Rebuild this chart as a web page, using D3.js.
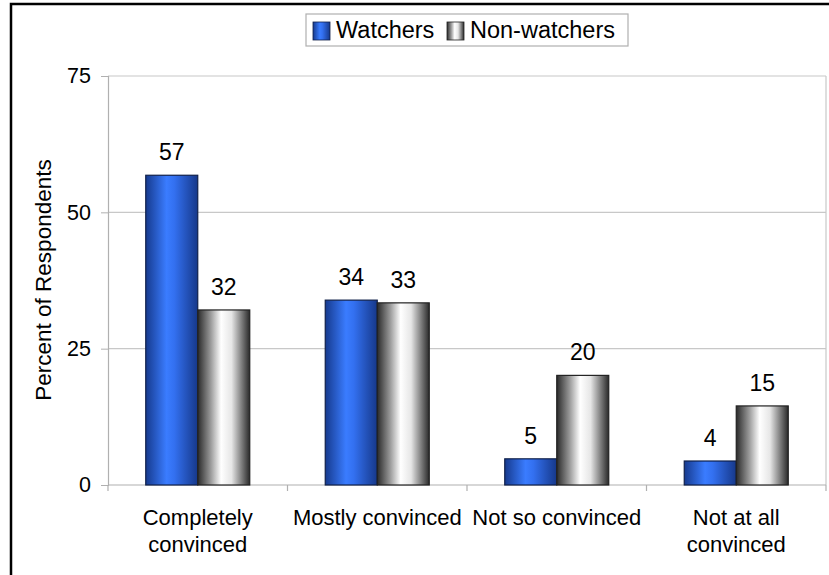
<!DOCTYPE html>
<html><head><meta charset="utf-8">
<script src="https://cdn.jsdelivr.net/npm/d3@7"></script>
<style>body{margin:0;background:#fff}svg{display:block;font-family:"Liberation Sans",Arial,sans-serif}</style>
</head><body>
<svg id="c" width="829" height="575"></svg>
<script>
const categories = [["Completely","convinced"],["Mostly convinced"],["Not so convinced"],["Not at all","convinced"]];
const seriesNames = ["Watchers","Non-watchers"];
const watchers = [56.8, 33.9, 4.8, 4.4];
const nonWatchers = [32.1, 33.4, 20.1, 14.5];
const watcherLabels = ["57","34","5","4"];
const nonWatcherLabels = ["32","33","20","15"];
const yTicks = [0,25,50,75];

(function(){
const svg = d3.select("#c");
const defs = svg.append("defs");
function grad(id, stops){
  const g = defs.append("linearGradient").attr("id",id).attr("x1","0%").attr("x2","100%").attr("y1","0%").attr("y2","0%");
  stops.forEach(s=>g.append("stop").attr("offset",s[0]).attr("stop-color",s[1]));
}
grad("gBlue",[["0%","#163a8e"],["40%","#3a7cff"],["55%","#3370f0"],["100%","#16388a"]]);
grad("gGray",[["0%","#2a2a2a"],["25%","#9a9a9a"],["45%","#ffffff"],["65%","#e6e6e6"],["100%","#2a2a2a"]]);

svg.append("rect").attr("x",11).attr("y",4).attr("width",840).attr("height",600)
  .attr("fill","none").attr("stroke","#000").attr("stroke-width",2.5);

const pLeft=108, pRight=826, pTop=76, pBottom=485;
const x = d3.scaleBand().domain(d3.range(categories.length)).range([pLeft,pRight]).paddingInner(0).paddingOuter(0);
const y = d3.scaleLinear().domain([0,75]).range([pBottom,pTop]);
const inner = d3.scaleBand().domain([0,1]).range([0,104]);
const barOffset = (x.bandwidth()-104)/2;

svg.append("g").selectAll("line").data(yTicks.filter(d=>d>0)).join("line")
  .attr("x1",pLeft).attr("x2",pRight).attr("y1",d=>y(d)).attr("y2",d=>y(d))
  .attr("stroke","#c8c8c8").attr("stroke-width",1.2);
svg.append("line").attr("x1",pRight).attr("x2",pRight).attr("y1",pTop).attr("y2",pBottom).attr("stroke","#c8c8c8").attr("stroke-width",1.2);

const yAxis = svg.append("g").attr("transform",`translate(${pLeft},0)`)
  .call(d3.axisLeft(y).tickValues(yTicks).tickSize(7).tickPadding(10));
yAxis.select(".domain").attr("stroke","#b0b0b0").attr("stroke-width",1.2);
yAxis.selectAll(".tick line").attr("stroke","#b0b0b0");
yAxis.selectAll("text").attr("font-size",21.5).attr("fill","#000").attr("font-family","Liberation Sans, Arial, sans-serif");

svg.append("line").attr("x1",pLeft).attr("x2",pRight).attr("y1",pBottom).attr("y2",pBottom).attr("stroke","#b0b0b0").attr("stroke-width",1.2);
svg.append("g").selectAll("line").data(d3.range(categories.length+1)).join("line")
  .attr("x1",d=> d<categories.length? x(d): x(d-1)+x.bandwidth())
  .attr("x2",d=> d<categories.length? x(d): x(d-1)+x.bandwidth())
  .attr("y1",pBottom).attr("y2",pBottom+6).attr("stroke","#b0b0b0").attr("stroke-width",1.2);

const cl = svg.append("g").selectAll("text").data(categories).join("text")
  .attr("x",(d,i)=>x(i)+x.bandwidth()/2).attr("y",525).attr("text-anchor","middle")
  .attr("font-size",22).attr("fill","#000");
cl.selectAll("tspan").data(d=>d).join("tspan").attr("x",function(){return this.parentNode.getAttribute("x");})
  .attr("dy",(d,i)=>i===0?0:27).text(d=>d);

const series = [
  {vals:watchers, labels:watcherLabels, fill:"url(#gBlue)", stroke:"#10204a"},
  {vals:nonWatchers, labels:nonWatcherLabels, fill:"url(#gGray)", stroke:"#222"}
];
series.forEach((s,si)=>{
  const g = svg.append("g");
  g.selectAll("rect").data(s.vals).join("rect")
    .attr("x",(d,i)=>x(i)+barOffset+inner(si)).attr("width",inner.bandwidth())
    .attr("y",d=>y(d)).attr("height",d=>pBottom-y(d))
    .attr("fill",s.fill).attr("stroke",s.stroke).attr("stroke-width",1.2);
  g.selectAll("text").data(s.vals).join("text")
    .attr("x",(d,i)=>x(i)+barOffset+inner(si)+inner.bandwidth()/2).attr("y",d=>y(d)-15)
    .attr("text-anchor","middle").attr("font-size",23).attr("fill","#000")
    .text((d,i)=>s.labels[i]);
});

svg.append("text").attr("transform","translate(51,280) rotate(-90)").attr("text-anchor","middle")
  .attr("font-size",22.5).attr("fill","#000").text("Percent of Respondents");

const lg = svg.append("g");
lg.append("rect").attr("x",306).attr("y",14).attr("width",322).attr("height",32).attr("fill","#fff").attr("stroke","#b0b0b0").attr("stroke-width",1.2);
const lx = [313, 447];
series.forEach((s,si)=>{
  lg.append("rect").attr("x",lx[si]).attr("y",22).attr("width",17).attr("height",18).attr("fill",s.fill).attr("stroke",s.stroke).attr("stroke-width",0.8);
  lg.append("text").attr("x",lx[si]+23).attr("y",38).attr("font-size",23.5).attr("fill","#000").text(seriesNames[si]);
});
})();
</script>
</body></html>
